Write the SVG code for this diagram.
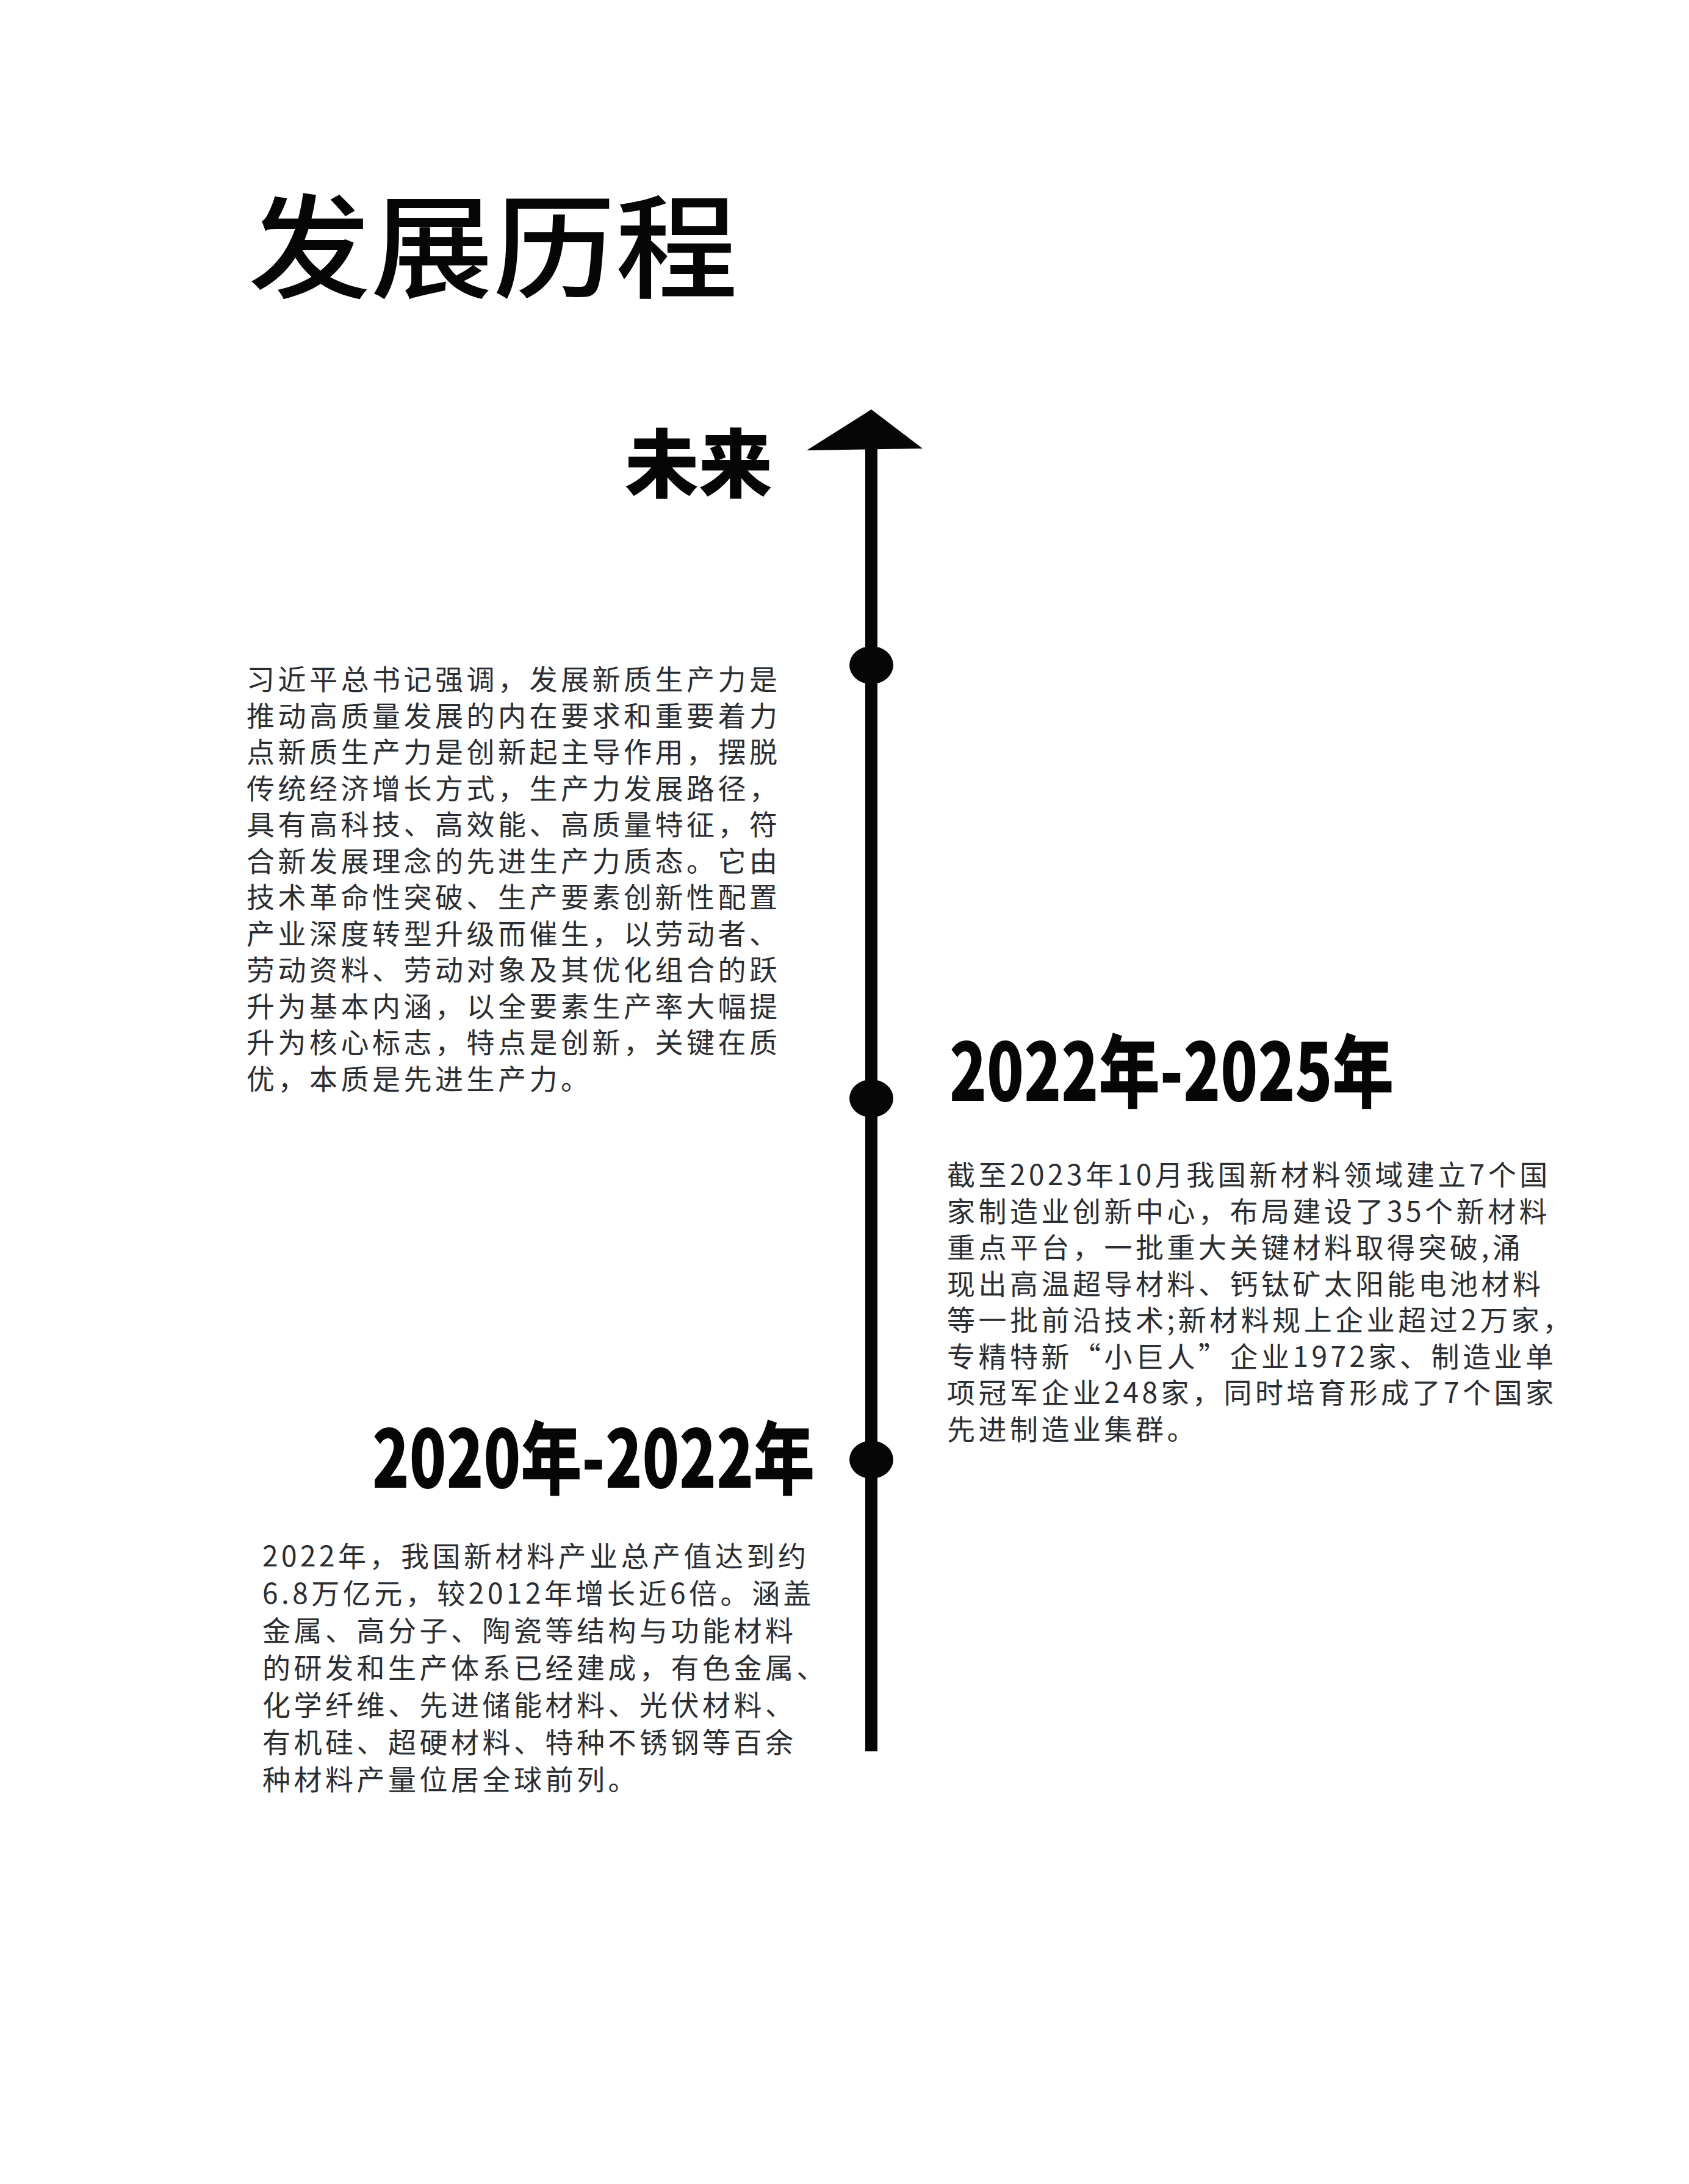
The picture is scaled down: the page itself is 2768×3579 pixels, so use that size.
<svg xmlns="http://www.w3.org/2000/svg" width="2768" height="3579" viewBox="0 0 2768 3579">
<style>
.body{font-family:"Noto Sans CJK SC","Noto Sans",sans-serif;font-size:46px;letter-spacing:5.5px;fill:#2a2d31}
.head{font-family:"Noto Sans CJK SC",sans-serif;font-weight:900;fill:#060606}
.title{font-family:"Noto Sans CJK SC",sans-serif;font-weight:500;fill:#060606}
</style>
<rect width="2768" height="3579" fill="#fff"/>
<g id="title"><text class="title" x="407" y="474" font-size="185" textLength="802" lengthAdjust="spacingAndGlyphs">发展历程</text></g>
<g id="connectors">
<rect x="1418" y="730" width="20" height="2140" fill="#060606"/>
<polygon points="1428,671 1322,738 1512,735" fill="#060606"/>
</g>
<g id="node-future">
<ellipse cx="1428" cy="1090" rx="36" ry="31" fill="#060606"/>
<text class="head" x="1024" y="805" font-size="122" textLength="242" lengthAdjust="spacingAndGlyphs">未来</text>
<text class="body">
<tspan x="404" y="1130">习近平总书记强调，发展新质生产力是</tspan>
<tspan x="404" y="1189.5">推动高质量发展的内在要求和重要着力</tspan>
<tspan x="404" y="1249">点新质生产力是创新起主导作用，摆脱</tspan>
<tspan x="404" y="1308.5">传统经济增长方式，生产力发展路径，</tspan>
<tspan x="404" y="1368">具有高科技、高效能、高质量特征，符</tspan>
<tspan x="404" y="1427.5">合新发展理念的先进生产力质态。它由</tspan>
<tspan x="404" y="1487">技术革命性突破、生产要素创新性配置</tspan>
<tspan x="404" y="1546.5">产业深度转型升级而催生，以劳动者、</tspan>
<tspan x="404" y="1606">劳动资料、劳动对象及其优化组合的跃</tspan>
<tspan x="404" y="1665.5">升为基本内涵，以全要素生产率大幅提</tspan>
<tspan x="404" y="1725">升为核心标志，特点是创新，关键在质</tspan>
<tspan x="404" y="1784.5">优，本质是先进生产力。</tspan>
</text>
</g>
<g id="node-2022-2025">
<ellipse cx="1428" cy="1800" rx="36" ry="31" fill="#060606"/>
<text class="head" x="1556" y="1804" font-size="130" textLength="728" lengthAdjust="spacingAndGlyphs">2022年-2025年</text>
<text class="body">
<tspan x="1552" y="1942">截至2023年10月我国新材料领域建立7个国</tspan>
<tspan x="1552" y="2001.5">家制造业创新中心，布局建设了35个新材料</tspan>
<tspan x="1552" y="2061">重点平台，一批重大关键材料取得突破,涌</tspan>
<tspan x="1552" y="2120.5">现出高温超导材料、钙钛矿太阳能电池材料</tspan>
<tspan x="1552" y="2180">等一批前沿技术;新材料规上企业超过2万家，</tspan>
<tspan x="1552" y="2239.5">专精特新“小巨人”企业1972家、制造业单</tspan>
<tspan x="1552" y="2299">项冠军企业248家，同时培育形成了7个国家</tspan>
<tspan x="1552" y="2358.5">先进制造业集群。</tspan>
</text>
</g>
<g id="node-2020-2022">
<ellipse cx="1428" cy="2392" rx="36" ry="31" fill="#060606"/>
<text class="head" x="610" y="2438" font-size="130" textLength="725" lengthAdjust="spacingAndGlyphs">2020年-2022年</text>
<text class="body">
<tspan x="430" y="2567">2022年，我国新材料产业总产值达到约</tspan>
<tspan x="430" y="2628">6.8万亿元，较2012年增长近6倍。涵盖</tspan>
<tspan x="430" y="2689">金属、高分子、陶瓷等结构与功能材料</tspan>
<tspan x="430" y="2750">的研发和生产体系已经建成，有色金属、</tspan>
<tspan x="430" y="2811">化学纤维、先进储能材料、光伏材料、</tspan>
<tspan x="430" y="2872">有机硅、超硬材料、特种不锈钢等百余</tspan>
<tspan x="430" y="2933">种材料产量位居全球前列。</tspan>
</text>
</g>
</svg>
